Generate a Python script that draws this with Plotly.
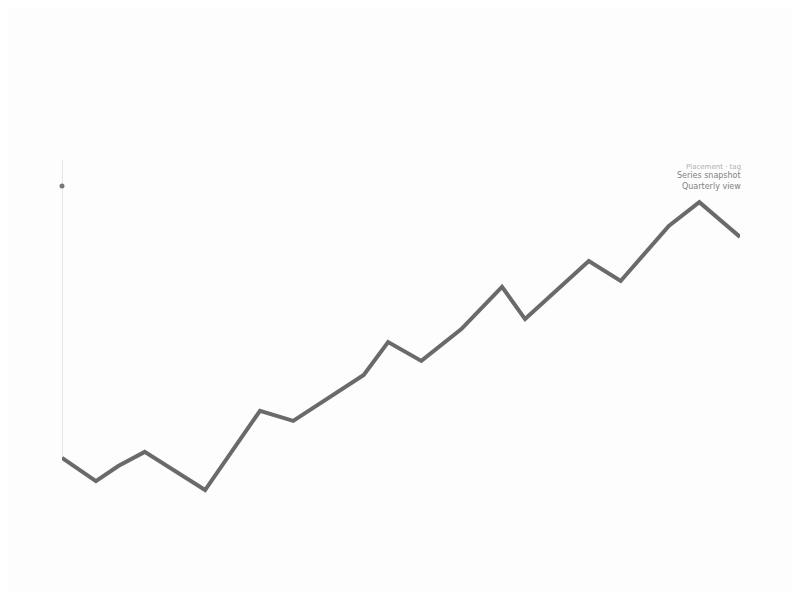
import plotly.graph_objects as go

# values (x as index position, y as level)
x_vals = [0, 5, 8.3, 12.2, 21.1, 29.2, 34.1, 44.5, 48.1,
          53, 58.9, 64.9, 68.3, 77.7, 82.4, 89.5, 94, 100]
y_vals = [19.5, 13.2, 17.3, 21.1, 10.8, 32.2, 29.5, 41.9, 50.8,
          45.7, 54.3, 65.7, 57.0, 72.7, 67.3, 82.2, 88.6, 79.2]
marker_y = 93
note_lines = ["Placement · tag", "Series snapshot", "Quarterly view"]

fig = go.Figure()

# thin vertical guide at the first point, with a small dot near the top
fig.add_trace(go.Scatter(
    x=[x_vals[0], x_vals[0]], y=[y_vals[0], 100],
    mode="lines", line=dict(color="#cfcfcf", width=1),
    hoverinfo="skip", showlegend=False,
))
fig.add_trace(go.Scatter(
    x=[x_vals[0]], y=[marker_y],
    mode="markers", marker=dict(color="#777777", size=5),
    cliponaxis=False, hoverinfo="skip", showlegend=False,
))

fig.add_trace(go.Scatter(
    x=x_vals, y=y_vals,
    mode="lines", line=dict(color="#6a6a6a", width=4),
    showlegend=False,
))

fig.add_annotation(x=1.005, y=0.965, xref="paper", yref="paper", xanchor="right", yanchor="bottom",
                   text=note_lines[0], showarrow=False, font=dict(size=7, color="#b0b0b0"))
fig.add_annotation(x=1.005, y=0.94, xref="paper", yref="paper", xanchor="right", yanchor="bottom",
                   text=note_lines[1], showarrow=False, font=dict(size=8, color="#808080"))
fig.add_annotation(x=1.005, y=0.91, xref="paper", yref="paper", xanchor="right", yanchor="bottom",
                   text=note_lines[2], showarrow=False, font=dict(size=8, color="#808080"))

fig.update_layout(
    width=800, height=592,
    margin=dict(l=54, r=68, t=152, b=70),
    paper_bgcolor="#fdfdfd", plot_bgcolor="#fdfdfd",
    font=dict(family="DejaVu Sans"),
    xaxis=dict(range=[0, 100], visible=False),
    yaxis=dict(range=[0, 100], visible=False),
)

fig.write_html("out.html")
